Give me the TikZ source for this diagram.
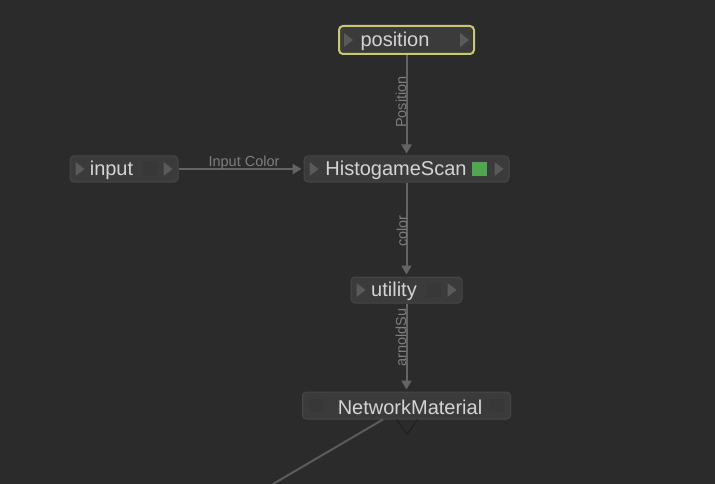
\documentclass[tikz,border=0pt]{standalone}
\usepackage{fontspec}
\setmainfont{Liberation Sans}
\usetikzlibrary{arrows.meta}
\definecolor{canvas}{HTML}{2B2B2B}
\definecolor{boxfill}{HTML}{3B3B3B}
\definecolor{boxline}{HTML}{474747}
\definecolor{portgray}{HTML}{5A5A5A}
\definecolor{dimsquare}{HTML}{383838}
\definecolor{wiregray}{HTML}{646464}
\definecolor{labelgray}{HTML}{7E7E7E}
\definecolor{selected}{HTML}{C9C86C}
\definecolor{swatch}{HTML}{4FA74F}
\definecolor{outport}{HTML}{1E1E1E}
\tikzset{shadernode/.style={draw=boxline, fill=boxfill, rounded corners=4pt,
   minimum height=26, inner sep=0pt, line width=1pt},
 nametext/.style={text=black!17, font=\fontsize{20}{24}\selectfont, inner sep=0pt, yshift=-1.5pt},
 wire/.style={draw=wiregray, line width=2pt, -{Triangle[width=10pt,length=9pt]}, shorten >=2pt},
 wirelabel/.style={text=labelgray, font=\fontsize{14.5}{16}\selectfont, inner sep=0pt},
 port/.style={fill=portgray},
 dimport/.style={fill=dimsquare},
 }

\begin{document}
\begin{tikzpicture}[x=1pt, y=-1pt]
    \fill[canvas] (0,0) rectangle (715,484);
    \useasboundingbox (0,0) rectangle (715,484);
    \node[shadernode, draw=selected, line width=2pt, minimum width=135, minimum height=28,
        label={[nametext, xshift=-11.5pt]center:position}] (position) at (406.5,40) {};
    \node[shadernode, minimum width=108,
        label={[nametext, xshift=-12.5pt]center:input}] (input) at (124,169) {};
    \node[shadernode, minimum width=205,
        label={[nametext, xshift=-10.5pt]center:HistogameScan}] (histogame) at (406.5,169) {};
    \node[shadernode, minimum width=111,
        label={[nametext, xshift=-12.5pt]center:utility}] (utility) at (406.5,290) {};
    \node[shadernode, minimum width=208, minimum height=27,
        label={[nametext, xshift=3.5pt]center:NetworkMaterial}] (network) at (406.5,405.5) {};
    \foreach \n in {position,input,histogame,utility} {
        \fill[port] ([shift={(6,-7)}]\n.west) -- ++(9,7) -- ++(-9,7) -- cycle;
        \fill[port] ([shift={(-15,-7)}]\n.east) -- ++(9,7) -- ++(-9,7) -- cycle;
    }
    \fill[dimport] ([shift={(-36,-7.5)}]input.east) rectangle ++(15,15);
    \fill[dimport] ([shift={(-37,-7)}]utility.east) rectangle ++(15,14);
    \fill[dimport] ([shift={(8,-6.5)}]network.west) rectangle ++(13,13);
    \fill[dimport] ([shift={(-22,-6.5)}]network.east) rectangle ++(15,13);
    \fill[swatch] ([shift={(-38,-7)}]histogame.east) rectangle ++(15,14);
    \draw[wire] (position) -- (histogame);
    \draw[wire] (input) -- (histogame);
    \draw[wire] (histogame) -- (utility);
    \draw[wire] (utility) -- (network);
    \node[wirelabel, rotate=90] (poslabel) at (401,102) {Position};
    \node[wirelabel] (colorlabel) at (244,163) {Input Color};
    \node[wirelabel, rotate=90] (utillabel) at (402,231) {color};
    \node[wirelabel, rotate=90, anchor=west] (surflabel) at (401,367) {arnoldSu};
    \draw[outport, line width=1pt] ([xshift=-10pt]network.south) -- ++(10.5,15) -- ++(10.5,-15);
    \coordinate (offcanvas) at (273,484);
    \draw[draw=wiregray!85!canvas, line width=2pt] ([xshift=-23.5pt]network.south) -- (offcanvas);
\end{tikzpicture}
\end{document}
